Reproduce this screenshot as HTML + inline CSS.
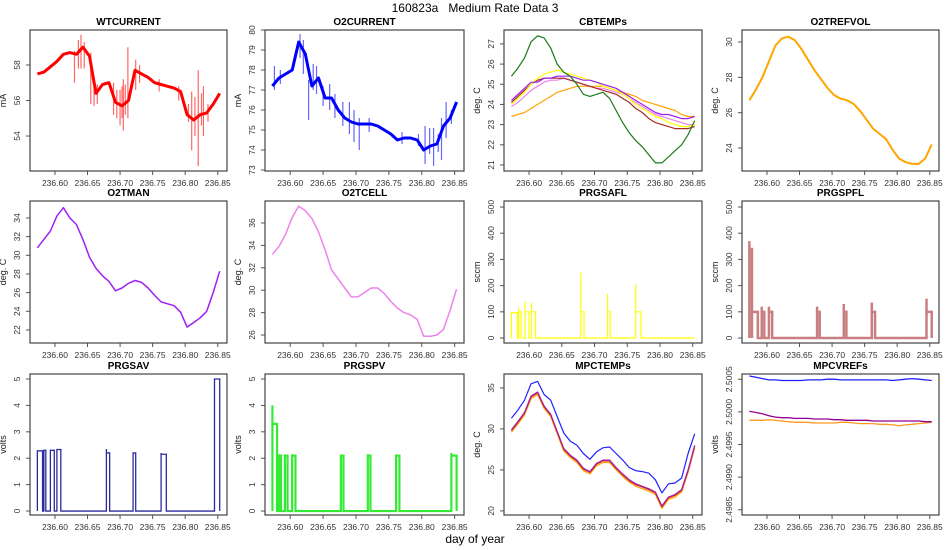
<!DOCTYPE html>
<html><head><meta charset="utf-8"><title>160823a Medium Rate Data 3</title>
<style>
body{margin:0;background:#fff;}
svg{display:block;font-family:"Liberation Sans",sans-serif;}
</style></head>
<body>
<svg id="chart" width="950" height="550" viewBox="0 0 950 550">
<rect width="950" height="550" fill="#fff"/>
<text x="475" y="12" text-anchor="middle" font-size="12" fill="#000" style="white-space:pre" xml:space="preserve">160823a   Medium Rate Data 3</text>
<text x="475" y="543" text-anchor="middle" font-size="12" fill="#000">day of year</text>
</svg>
<script>
const times=[236.573,236.583,236.593,236.603,236.613,236.623,236.633,236.643,236.653,236.663,236.673,236.683,236.693,236.703,236.713,236.723,236.733,236.743,236.753,236.763,236.773,236.783,236.793,236.803,236.813,236.823,236.833,236.843,236.853];
const xTicks=[236.60,236.65,236.70,236.75,236.80,236.85];
const xTickLabels=["236.60","236.65","236.70","236.75","236.80","236.85"];

const wtCurrent=[57.5,57.6,57.9,58.2,58.6,58.7,58.6,59.0,58.5,56.4,56.9,57.0,55.9,55.7,56.0,57.7,57.5,57.3,57.0,56.9,56.8,56.7,56.5,55.2,54.9,55.2,55.3,55.8,56.4];
const wtSpikeT=[236.630,236.636,236.640,236.645,236.655,236.660,236.665,236.690,236.695,236.700,236.703,236.705,236.708,236.712,236.724,236.730,236.760,236.790,236.805,236.810,236.815,236.820,236.825,236.828,236.835];
const wtSpikeLo=[57.0,57.8,57.8,57.8,55.8,55.7,55.8,55.2,55.0,54.6,55.0,54.3,55.2,55.0,56.6,57.0,56.5,56.0,54.8,53.2,54.0,52.3,54.6,54.0,54.8];
const wtSpikeHi=[58.8,59.4,59.7,59.3,58.7,57.0,56.9,57.0,56.6,56.6,56.8,57.2,56.9,59.0,58.3,58.0,57.2,56.8,55.8,56.5,56.2,57.7,56.4,56.8,55.8];

const o2Current=[77.2,77.6,77.8,78.0,79.4,78.8,77.2,77.6,76.6,76.6,76.0,75.6,75.4,75.3,75.3,75.3,75.2,75.0,74.8,74.5,74.6,74.6,74.5,74.0,74.2,74.3,75.2,75.6,76.4];
const o2SpikeT=[236.576,236.585,236.615,236.620,236.628,236.635,236.640,236.650,236.660,236.668,236.680,236.690,236.697,236.705,236.720,236.770,236.795,236.805,236.812,236.818,236.825,236.830,236.837,236.845];
const o2SpikeLo=[77.0,77.3,78.6,77.8,75.5,77.0,76.8,76.2,76.0,75.6,75.2,74.8,74.4,74.0,74.9,74.3,74.2,73.3,73.8,73.2,73.9,73.5,74.6,75.3];
const o2SpikeHi=[78.2,78.0,79.8,79.5,77.5,78.3,78.2,77.2,77.3,76.8,76.4,76.4,76.0,75.6,75.6,74.9,74.8,75.2,75.1,75.1,74.8,75.6,76.4,76.0];

const cbGreen=[25.4,25.8,26.3,27.1,27.4,27.3,26.8,26.0,25.6,25.4,25.0,24.5,24.4,24.5,24.6,24.3,23.7,23.1,22.6,22.2,21.9,21.5,21.1,21.1,21.4,21.7,22.0,22.5,23.2];
const cbPurple=[24.2,24.5,24.8,25.1,25.1,25.3,25.3,25.4,25.4,25.4,25.3,25.2,25.2,25.1,25.0,24.9,24.8,24.6,24.4,24.2,24.0,23.8,23.6,23.5,23.5,23.4,23.3,23.3,23.4];
const cbYellow=[24.0,24.3,24.6,25.0,25.3,25.5,25.6,25.7,25.6,25.5,25.4,25.3,25.2,25.1,24.9,24.8,24.7,24.5,24.3,24.0,23.8,23.6,23.4,23.3,23.1,23.0,22.9,22.9,23.0];
const cbBrown=[24.1,24.4,24.7,25.0,25.2,25.3,25.3,25.3,25.3,25.2,25.1,25.0,24.9,24.8,24.7,24.6,24.5,24.3,24.1,23.8,23.6,23.3,23.1,23.0,22.9,22.8,22.8,22.8,22.9];
const cbViolet=[23.9,24.1,24.4,24.7,24.9,25.1,25.2,25.2,25.3,25.2,25.1,25.0,24.9,24.8,24.8,24.7,24.6,24.5,24.3,24.1,23.9,23.7,23.5,23.4,23.3,23.2,23.1,23.0,23.0];
const cbOrange=[23.4,23.5,23.6,23.8,24.0,24.2,24.4,24.6,24.7,24.8,24.9,24.9,24.9,24.9,24.9,24.8,24.7,24.6,24.5,24.4,24.2,24.1,24.0,23.9,23.8,23.7,23.5,23.4,23.4];

const o2RefVol=[26.7,27.3,28.0,28.9,29.8,30.2,30.3,30.1,29.6,29.0,28.4,27.9,27.4,27.0,26.8,26.7,26.5,26.1,25.6,25.1,24.8,24.5,23.9,23.4,23.2,23.1,23.1,23.4,24.2];
const o2TMan=[30.8,31.7,32.6,34.2,35.1,34.0,33.3,31.7,29.8,28.6,27.8,27.2,26.2,26.5,27.0,27.3,27.1,26.5,25.7,25.0,24.8,24.6,23.9,22.3,22.8,23.3,24.0,26.0,28.3];
const o2TCell=[33.2,33.9,35.0,36.5,37.5,37.1,36.4,35.2,33.6,31.8,31.0,30.2,29.4,29.4,29.8,30.2,30.2,29.7,29.0,28.4,28.0,27.8,27.4,25.9,25.9,26.0,26.5,28.2,30.1];

const safStart=[236.573,236.584,236.594,236.604,236.679,236.720,236.763];
const safEnd=[236.582,236.588,236.600,236.610,236.684,236.724,236.771];
const safLevel=[97,100,100,100,100,100,100];
const safSpike=[97,115,140,135,250,170,205];

const spfStart=[236.573,236.577,236.592,236.603,236.677,236.718,236.761,236.845];
const spfEnd=[236.577,236.586,236.596,236.608,236.681,236.722,236.766,236.853];
const spfLevel=[340,100,100,100,100,100,100,100];
const spfSpike=[370,100,120,120,120,130,135,150];

const savStart=[236.573,236.583,236.593,236.603,236.679,236.720,236.763,236.845];
const savEnd=[236.581,236.586,236.599,236.609,236.684,236.724,236.771,236.853];
const savLevel=[2.28,2.3,2.3,2.33,2.2,2.2,2.15,5.0];
const savSpike=[2.28,2.3,2.3,2.33,2.35,2.2,2.2,5.0];

const spvStart=[236.573,236.583,236.592,236.603,236.677,236.718,236.761,236.845];
const spvEnd=[236.580,236.586,236.596,236.608,236.681,236.722,236.766,236.853];
const spvLevel=[3.3,2.1,2.1,2.1,2.1,2.1,2.1,2.1];
const spvSpike=[4.0,2.15,2.1,2.15,2.1,2.15,2.1,2.2];

const mpcBlue=[31.3,32.3,33.5,35.5,35.8,34.2,33.5,31.5,29.5,28.5,28.0,27.0,26.3,27.2,27.7,27.8,27.0,26.2,25.3,24.9,24.8,24.6,23.8,22.2,23.3,23.4,24.0,27.0,29.4];
const mpcPurple=[29.9,30.9,32.0,34.0,34.5,32.8,31.8,29.7,27.6,26.8,26.2,25.2,24.8,25.8,26.2,26.2,25.3,24.5,23.8,23.3,23.0,22.7,22.3,20.6,21.7,22.0,22.6,25.0,28.0];
const mpcRed=[29.8,30.8,31.9,33.9,34.4,32.7,31.7,29.6,27.5,26.7,26.1,25.1,24.7,25.7,26.1,26.1,25.2,24.4,23.7,23.2,22.9,22.6,22.2,20.5,21.6,21.9,22.5,24.9,27.9];
const mpcOrange=[29.6,30.6,31.7,33.7,34.2,32.5,31.5,29.4,27.3,26.5,25.9,24.9,24.5,25.5,25.9,25.9,25.0,24.2,23.5,23.0,22.7,22.4,22.0,20.3,21.4,21.7,22.3,24.7,27.7];

const vrefBlue=[2.50055,2.50053,2.50051,2.50049,2.50049,2.50048,2.50048,2.50048,2.50048,2.50049,2.50049,2.50049,2.50050,2.50050,2.50049,2.50049,2.50049,2.50049,2.50049,2.50049,2.50049,2.50049,2.50048,2.50049,2.50050,2.50051,2.50050,2.50049,2.50048];
const vrefPurple=[2.50001,2.49999,2.49997,2.49994,2.49992,2.49991,2.49991,2.49990,2.49990,2.49990,2.49989,2.49989,2.49989,2.49988,2.49988,2.49987,2.49987,2.49987,2.49987,2.49986,2.49986,2.49986,2.49986,2.49986,2.49986,2.49986,2.49986,2.49985,2.49985];
const vrefOrange=[2.49987,2.49987,2.49987,2.49988,2.49987,2.49986,2.49985,2.49984,2.49984,2.49984,2.49983,2.49983,2.49983,2.49983,2.49984,2.49984,2.49983,2.49982,2.49982,2.49982,2.49981,2.49981,2.49980,2.49979,2.49980,2.49981,2.49982,2.49983,2.49984];

const NS="http://www.w3.org/2000/svg";
const svg=document.getElementById('chart');
function mk(tag,attrs,parent){const e=document.createElementNS(NS,tag);for(const k in attrs)e.setAttribute(k,attrs[k]);(parent||svg).appendChild(e);return e;}

const colX=[[30,227],[265,464],[504,702],[742,939]];
const rowY=[[30,171],[201,343],[374,515]];
const X0=236.5617,X1=236.8642;

function panel(col,row,title,ylab,ymin,ymax,yticks,yfmt,draw){
  const [l,r]=colX[col],[t,b]=rowY[row];
  const g=mk('g',{});
  
  
  const xs=v=>l+(v-X0)/(X1-X0)*(r-l);
  const ys=v=>b-(v-ymin)/(ymax-ymin)*(b-t);
  const tt=mk('text',{x:(l+r)/2,y:t-5,'text-anchor':'middle','font-size':10,'font-weight':'bold',fill:'#000'},g);
  tt.textContent=title;
  
  
  const yl=mk('text',{x:l-24,y:(t+b)/2,'text-anchor':'middle','font-size':9,fill:'#222',transform:`rotate(-90 ${l-24} ${(t+b)/2})`},g);
  yl.textContent=ylab;
  
  
  const dg=mk('g',{},g);
  
  
  draw(dg,xs,ys);
  xTicks.forEach((v,i)=>{
    const x=xs(v);
    const tk=mk('line',{x1:x,x2:x,y1:b,y2:b+4,stroke:'#555','stroke-width':1},g);
    
    
    const lb=mk('text',{x:x,y:b+15,'text-anchor':'middle','font-size':8.5,fill:'#333'},g);
    lb.textContent=xTickLabels[i];
    
    
  });
  yticks.forEach(v=>{
    const y=ys(v);
    const tk=mk('line',{x1:l-4,x2:l,y1:y,y2:y,stroke:'#555','stroke-width':1},g);
    
    
    const lb=mk('text',{x:l-10,y:y,'text-anchor':'middle','font-size':8.5,fill:'#333',transform:`rotate(-90 ${l-10} ${y})`},g);
    lb.textContent=yfmt(v);
    
    
  });
  const box=mk('rect',{x:l,y:t,width:r-l,height:b-t,fill:'none',stroke:'#444','stroke-width':1.2},g);
  
  
}
function line(g,xs,ys,vals,color,w,name,op){
  const d=vals.map((v,i)=>(i?'L':'M')+xs(times[i]).toFixed(1)+','+ys(v).toFixed(1)).join('');
  const p=mk('path',{d:d,fill:'none',stroke:color,'stroke-width':w,'stroke-linejoin':'round','stroke-opacity':op||1},g);
  
  
}
function spikes(g,xs,ys,T,lo,hi,color,name){
  T.forEach((t,i)=>{
    const s=mk('line',{x1:xs(t),x2:xs(t),y1:ys(lo[i]),y2:ys(hi[i]),stroke:color,'stroke-width':1.2,'stroke-opacity':0.6},g);
    
    
  });
}
function pulses(g,xs,ys,S,E,L,P,color,w,name,op){
  let d='M'+xs(times[0])+','+ys(0);
  S.forEach((s,i)=>{
    d+='L'+xs(s)+','+ys(0)+'L'+xs(s)+','+ys(P[i])+'L'+xs(s)+','+ys(L[i])+'L'+xs(E[i])+','+ys(L[i])+'L'+xs(E[i])+','+ys(0);
  });
  d+='L'+xs(times[times.length-1])+','+ys(0);
  const p=mk('path',{d:d,fill:'none',stroke:color,'stroke-width':w,'stroke-opacity':op||1},g);
  
  
}
const f0=v=>String(v), f4=v=>v.toFixed(4);

panel(0,0,'WTCURRENT','mA',52.03,59.97,[54,56,58],f0,(g,xs,ys)=>{
  spikes(g,xs,ys,wtSpikeT,wtSpikeLo,wtSpikeHi,'#f00','wtcurrent-spike');
  line(g,xs,ys,wtCurrent,'#f00',3,'wtcurrent-line');
});
panel(1,0,'O2CURRENT','mA',72.95,80.0,[73,74,75,76,77,78,79,80],f0,(g,xs,ys)=>{
  spikes(g,xs,ys,o2SpikeT,o2SpikeLo,o2SpikeHi,'#00f','o2current-spike');
  line(g,xs,ys,o2Current,'#00f',3,'o2current-line');
});
panel(2,0,'CBTEMPs','deg. C',20.7,27.69,[21,22,23,24,25,26,27],f0,(g,xs,ys)=>{
  line(g,xs,ys,cbOrange,'#ffa500',1.2,'cbtemp-orange');
  line(g,xs,ys,cbViolet,'#ee82ee',1.2,'cbtemp-violet');
  line(g,xs,ys,cbBrown,'#a52a2a',1.2,'cbtemp-brown');
  line(g,xs,ys,cbYellow,'#ffff00',1.2,'cbtemp-yellow');
  line(g,xs,ys,cbPurple,'#a020f0',1.2,'cbtemp-purple');
  line(g,xs,ys,cbGreen,'#1a7a1a',1.2,'cbtemp-green');
});
panel(3,0,'O2TREFVOL','deg. C',22.7,30.68,[24,26,28,30],f0,(g,xs,ys)=>{
  line(g,xs,ys,o2RefVol,'#ffa500',2,'o2trefvol-line');
});
panel(0,1,'O2TMAN','deg. C',20.6,35.82,[22,24,26,28,30,32,34],f0,(g,xs,ys)=>{
  line(g,xs,ys,o2TMan,'#a020f0',1.5,'o2tman-line');
});
panel(1,1,'O2TCELL','deg. C',25.29,37.96,[26,28,30,32,34,36],f0,(g,xs,ys)=>{
  line(g,xs,ys,o2TCell,'#ee82ee',1.5,'o2tcell-line');
});
panel(2,1,'PRGSAFL','sccm',-19,523,[0,100,200,300,400,500],f0,(g,xs,ys)=>{
  pulses(g,xs,ys,safStart,safEnd,safLevel,safSpike,'#ffff00',1.2,'prgsafl-line');
});
panel(3,1,'PRGSPFL','sccm',-19,523,[0,100,200,300,400,500],f0,(g,xs,ys)=>{
  pulses(g,xs,ys,spfStart,spfEnd,spfLevel,spfSpike,'#a52a2a',2.5,'prgspfl-line',0.6);
});
panel(0,2,'PRGSAV','volts',-0.15,5.19,[0,1,2,3,4,5],f0,(g,xs,ys)=>{
  pulses(g,xs,ys,savStart,savEnd,savLevel,savSpike,'#2b2b9e',1.3,'prgsav-line');
});
panel(1,2,'PRGSPV','volts',-0.15,5.19,[0,1,2,3,4,5],f0,(g,xs,ys)=>{
  pulses(g,xs,ys,spvStart,spvEnd,spvLevel,spvSpike,'#00e600',2.2,'prgspv-line',0.8);
});
panel(2,2,'MPCTEMPs','deg. C',19.5,36.7,[20,25,30,35],f0,(g,xs,ys)=>{
  line(g,xs,ys,mpcOrange,'#ffa500',1.2,'mpctemp-orange');
  line(g,xs,ys,mpcRed,'#e02020',1.2,'mpctemp-red');
  line(g,xs,ys,mpcPurple,'#a020a0',1.2,'mpctemp-purple');
  line(g,xs,ys,mpcBlue,'#2020ff',1.2,'mpctemp-blue');
});
panel(3,2,'MPCVREFs','volts',2.49842,2.50058,[2.4985,2.4990,2.4995,2.5000,2.5005],f4,(g,xs,ys)=>{
  line(g,xs,ys,vrefOrange,'#ff9a20',1.3,'mpcvref-orange');
  line(g,xs,ys,vrefPurple,'#900090',1.3,'mpcvref-purple');
  line(g,xs,ys,vrefBlue,'#2020ff',1.3,'mpcvref-blue');
});
</script>
</body></html>
